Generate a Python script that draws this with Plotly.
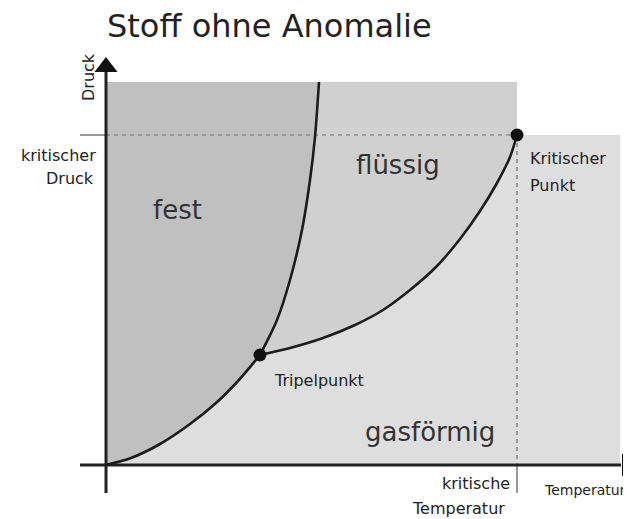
import plotly.graph_objects as go

# ---- data (temperature / pressure in arbitrary diagram units) ----
subl_T = [0, 25, 54, 84, 110, 132, 154]
subl_p = [0, 7, 21, 41, 62, 84, 110]
melt_T = [154, 171, 184, 196, 204, 209, 213]
melt_p = [110, 145, 185, 235, 285, 328, 383]
vap_T = [154, 184, 217, 249, 277, 304, 331, 354, 374, 391, 404, 411]
vap_p = [110, 117, 127, 140, 155, 175, 199, 226, 254, 282, 308, 330]
triple = (154, 110)
critical = (411, 330)
p_top = 383
T_right = 514
region_labels = ["fest", "flüssig", "gasförmig"]

FONT = "DejaVu Sans"
LINE = "#1c1c1c"
C_SOLID = "#c0c0c0"
C_LIQ = "#d0d0d0"
C_GAS = "#dedede"

W, H = 623, 511  # page has an 8px body margin

fig = go.Figure()

# gas region (incl. supercritical strip)
fig.add_trace(go.Scatter(
    x=[0, T_right, T_right, critical[0]] + vap_T[::-1] + subl_T[::-1],
    y=[0, 0, critical[1], critical[1]] + vap_p[::-1] + subl_p[::-1],
    fill="toself", fillcolor=C_GAS, line=dict(width=0), mode="lines",
    hoverinfo="skip"))
# liquid region
fig.add_trace(go.Scatter(
    x=vap_T + [critical[0], critical[0]] + melt_T[::-1],
    y=vap_p + [critical[1], p_top] + melt_p[::-1],
    fill="toself", fillcolor=C_LIQ, line=dict(width=0), mode="lines",
    hoverinfo="skip"))
# solid region
fig.add_trace(go.Scatter(
    x=[0, 0] + melt_T[::-1] + subl_T[::-1],
    y=[0, p_top] + melt_p[::-1] + subl_p[::-1],
    fill="toself", fillcolor=C_SOLID, line=dict(width=0), mode="lines",
    hoverinfo="skip"))

# dashed critical lines
fig.add_trace(go.Scatter(x=[0, critical[0]], y=[critical[1], critical[1]],
                         mode="lines", line=dict(color="#707070", width=1.2, dash="4px,4px")))
fig.add_trace(go.Scatter(x=[critical[0], critical[0]], y=[critical[1], 0],
                         mode="lines", line=dict(color="#707070", width=1.2, dash="4px,4px")))
# tick marks
fig.add_trace(go.Scatter(x=[-26, 0], y=[critical[1], critical[1]],
                         mode="lines", line=dict(color="#555", width=1.2)))
fig.add_trace(go.Scatter(x=[critical[0], critical[0]], y=[0, -28],
                         mode="lines", line=dict(color="#555", width=1.2)))

# axes
fig.add_trace(go.Scatter(x=[-26, 515], y=[0, 0], mode="lines",
                         line=dict(color="#222", width=3)))
fig.add_trace(go.Scatter(x=[0, 0], y=[-28, 395], mode="lines",
                         line=dict(color="#222", width=3)))
fig.add_trace(go.Scatter(x=[0], y=[398], mode="markers",
                         marker=dict(symbol="triangle-up", size=20, color="#111")))
fig.add_trace(go.Scatter(x=[521], y=[0], mode="markers",
                         marker=dict(symbol="triangle-right", size=20, color="#111")))

# phase boundaries
for tx, ty in [(subl_T, subl_p), (melt_T, melt_p), (vap_T, vap_p)]:
    fig.add_trace(go.Scatter(x=tx, y=ty, mode="lines",
                             line=dict(color=LINE, width=2.6, shape="spline",
                                       smoothing=0.8)))

# special points
fig.add_trace(go.Scatter(x=[triple[0], critical[0]], y=[triple[1], critical[1]],
                         mode="markers", marker=dict(size=13, color="#111")))

ann = []
def label(x, y, text, size, xanchor="center", color="#333", angle=0):
    ann.append(dict(x=x, y=y, xref="x", yref="y", text=text, showarrow=False,
                    xanchor=xanchor, yanchor="middle", textangle=angle,
                    font=dict(family=FONT, size=size, color=color)))

label(71, 255, region_labels[0], 26)
label(292, 300, region_labels[1], 26)
label(324, 33, region_labels[2], 26)
label(166, 85, "Tripelpunkt", 16, xanchor="left", color="#222")
label(422, 307, "Kritischer", 16, xanchor="left", color="#222")
label(422, 280, "Punkt", 16, xanchor="left", color="#222")
label(-8, 310, "kritischer", 16, xanchor="right", color="#222")
label(-10, 287, "Druck", 16, xanchor="right", color="#222")
label(-18, 388, "Druck", 16, color="#222", angle=-90)
label(406, -18, "kritische", 16, xanchor="right", color="#222")
label(352, -43, "Temperatur", 16, color="#222")
label(436, -25, "Temperatur", 14, xanchor="left", color="#222")

fig.update_layout(
    width=W, height=H, autosize=False,
    margin=dict(l=0, r=0, t=0, b=0),
    paper_bgcolor="white", plot_bgcolor="white",
    showlegend=False,
    xaxis=dict(range=[-98, 525], visible=False, fixedrange=True),
    yaxis=dict(range=[-54, 457], visible=False, fixedrange=True),
    annotations=ann,
    title=dict(text="Stoff ohne Anomalie", x=99 / W, xanchor="left",
               y=1 - 18 / H, yanchor="middle", xref="paper", yref="container",
               font=dict(family=FONT, size=32, color="#222")),
)

fig.write_html("out.html")
